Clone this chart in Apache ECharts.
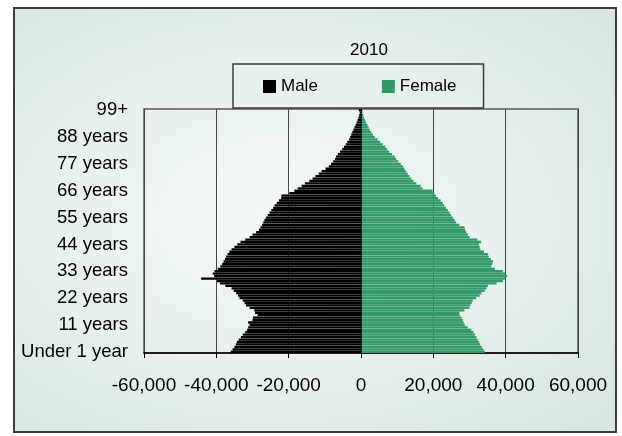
<!DOCTYPE html>
<html>
<head>
<meta charset="utf-8">
<title>2010 population by age and sex</title>
<script src="https://cdn.jsdelivr.net/npm/echarts@6/dist/echarts.min.js"></script>
<style>
  html, body { margin: 0; padding: 0; background: #ffffff; }
  #frame {
    position: absolute; left: 13px; top: 7px; width: 600px; height: 422px;
    border: 2px solid #3c3c3c;
    background: radial-gradient(ellipse at 45% 50%, #f4f9f7 0%, #e5efeb 55%, #d4e6df 100%);
  }
  #chart { position: absolute; left: 0; top: 0; width: 622px; height: 436px; }
</style>
</head>
<body>
<div id="frame"></div>
<div id="chart"></div>
<script>
// Single-year age groups, youngest first
const ages = ['Under 1 year'];
for (let a = 1; a <= 98; a++) ages.push(a + ' years');
ages.push('99+');

// Male population by age (drawn to the left of zero)
const male = [
  36000, 35500, 35000, 34600, 34300, 33800, 33200, 32700, 32000, 31500,
  31200, 30800, 31200, 30000, 29900, 28600, 29300, 29500, 30800, 31800,
  32200, 32700, 33600, 34000, 34500, 35200, 35800, 37500, 39000, 39800,
  44200, 40600, 41000, 40500, 39600, 38900, 38400, 38000, 37600, 37300,
  36900, 36400, 35800, 35000, 34200, 33300, 32000, 30800, 30000, 29000,
  28200, 27800, 27400, 27000, 26700, 26300, 25800, 25300, 24800, 24300,
  23900, 23300, 22700, 22100, 22000, 19800, 18400, 17500, 16400, 15500,
  14300, 13400, 12600, 11700, 10900, 9800, 8900, 8300, 7700, 7200,
  6900, 6400, 5800, 5200, 4700, 4200, 3800, 3300, 3000, 2700,
  2400, 2100, 1800, 1500, 1200, 950, 700, 500, 350, 600
];

// Female population by age (drawn to the right of zero)
const female = [
  34200, 33800, 33400, 32900, 32600, 32200, 31900, 31500, 31100, 30500,
  29500, 28700, 28400, 28100, 27800, 27300, 27200, 28600, 30000, 30200,
  30600, 30900, 31800, 32800, 33300, 34200, 34700, 35100, 37500, 39200,
  39800, 40400, 39800, 39200, 37000, 36000, 36300, 36500, 35900, 35300,
  35100, 34000, 33000, 32800, 32600, 33200, 32200, 30000, 29600, 29100,
  28800, 28600, 27200, 26300, 25900, 25400, 24900, 24500, 24000, 23500,
  23000, 22600, 22000, 21300, 20700, 20300, 19800, 17000, 16500, 15300,
  14500, 13900, 13400, 12900, 12400, 12000, 11600, 11000, 10300, 9700,
  9300, 8600, 7800, 7200, 6700, 6000, 5300, 4600, 3800, 3300,
  2800, 2400, 2100, 1800, 1400, 1100, 850, 650, 450, 400
];

// Value axis ticks
const xTicks = [-60000, -40000, -20000, 0, 20000, 40000, 60000];

const FONT = '"Liberation Sans", Arial, sans-serif';

function withCommas(v) {
  const s = String(Math.abs(v)).replace(/\B(?=(\d{3})+(?!\d))/g, ',');
  return (v < 0 ? '-' : '') + s;
}

const chart = echarts.init(document.getElementById('chart'), null, { renderer: 'canvas' });

chart.setOption({
  backgroundColor: 'transparent',
  animation: false,
  title: {
    text: '2010',
    left: 364, top: 37, textAlign: 'center',
    textStyle: { fontFamily: FONT, fontSize: 17, fontWeight: 'normal', color: '#000' }
  },
  legend: {
    data: ['Male', 'Female'],
    left: 233, top: 64, width: 249, height: 43,
    padding: [14, 27, 13, 30],
    itemGap: 64,
    itemWidth: 13, itemHeight: 13,
    icon: 'rect',
    borderColor: '#3c3c3c', borderWidth: 1.5,
    textStyle: { fontFamily: FONT, fontSize: 17, color: '#000' }
  },
  grid: {
    left: 144, right: 44, top: 109, bottom: 83,
    show: true, borderColor: '#5a5a5a', borderWidth: 1.5,
    backgroundColor: 'transparent'
  },
  xAxis: {
    type: 'value',
    min: xTicks[0], max: xTicks[xTicks.length - 1], interval: 20000,
    axisLine: { show: true, lineStyle: { color: '#000', width: 1.5 } },
    axisTick: { show: true, length: 5, lineStyle: { color: '#000' } },
    splitLine: { show: true, lineStyle: { color: '#444', width: 1 } },
    axisLabel: {
      margin: 23,
      fontFamily: FONT, fontSize: 19, color: '#000',
      formatter: withCommas
    }
  },
  yAxis: {
    type: 'category',
    data: ages,
    axisLine: { show: false },
    axisTick: { show: false },
    axisLabel: {
      interval: 10, margin: 16,
      fontFamily: FONT, fontSize: 18.5, color: '#000'
    }
  },
  series: [
    {
      name: 'Male', type: 'bar',
      data: male.map(v => -v),
      barCategoryGap: '5%', barGap: '-100%',
      itemStyle: { color: '#000000' }
    },
    {
      name: 'Female', type: 'bar',
      data: female,
      barCategoryGap: '5%', barGap: '-100%',
      itemStyle: { color: '#339966' },
      markLine: {
        silent: true, symbol: 'none',
        label: { show: false },
        lineStyle: { color: '#1e1e1e', width: 1, type: 'solid' },
        data: [{ xAxis: 0 }]
      }
    }
  ]
});
</script>
</body>
</html>
